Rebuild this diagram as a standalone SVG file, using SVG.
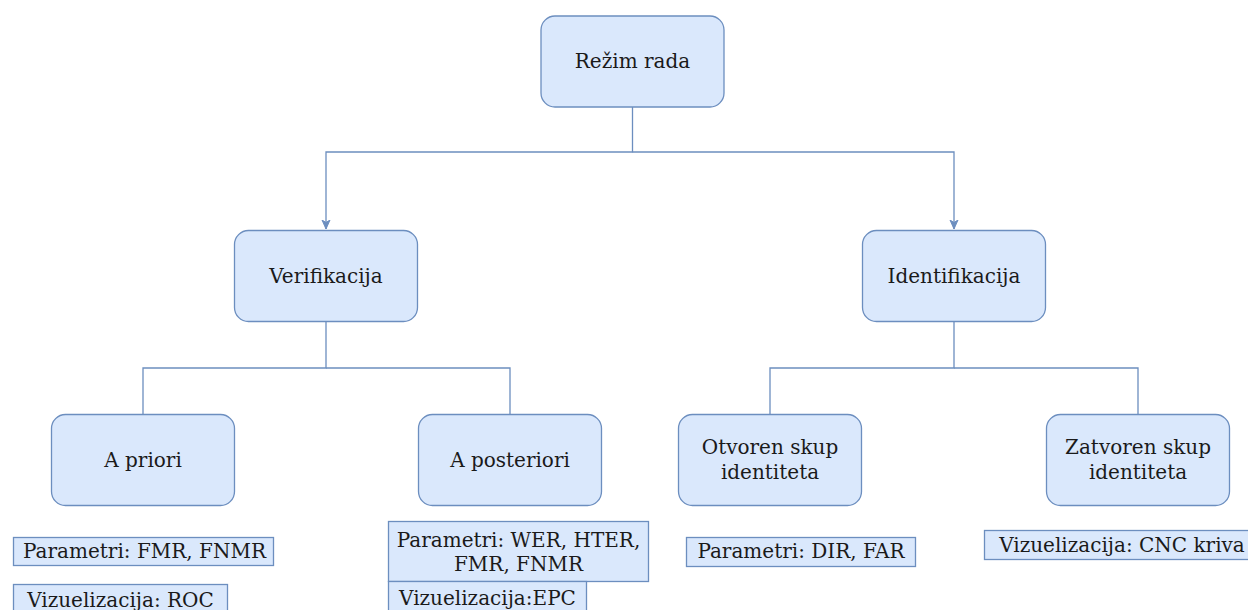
<svg xmlns="http://www.w3.org/2000/svg" width="1248" height="610" viewBox="0 0 1248 610">
  <style>
    .node { fill: #dae8fc; stroke: #6c8ebf; stroke-width: 1.3; }
    .lbl { font-family: "DejaVu Serif", "Liberation Serif", serif; font-size: 20px; fill: #1a1a1a; text-anchor: middle; }
    .edge { fill: none; stroke: #6c8ebf; stroke-width: 1.3; }
  </style>
  <defs>
    <marker id="arrow" viewBox="0 0 10 10" refX="9" refY="5" markerWidth="10" markerHeight="10" markerUnits="userSpaceOnUse" orient="auto">
      <path d="M0,1 L9,5 L0,9 L2.5,5 Z" fill="#6c8ebf" stroke="#6c8ebf" stroke-width="1"/>
    </marker>
  </defs>
  <rect width="1248" height="610" fill="#ffffff"/>

  <g id="connectors">
    <path class="edge" d="M632.5,107 V152 H326 V229" marker-end="url(#arrow)"/>
    <path class="edge" d="M632.5,152 H954 V229" marker-end="url(#arrow)"/>
    <path class="edge" d="M326,322 V368 H143 V414"/>
    <path class="edge" d="M326,368 H510 V414"/>
    <path class="edge" d="M954,322 V368 H770 V414"/>
    <path class="edge" d="M954,368 H1138 V414"/>
  </g>

  <g id="rezim-rada">
    <rect class="node" x="541" y="16" width="183" height="91" rx="14"/>
    <text class="lbl" x="632.5" y="68">Režim rada</text>
  </g>
  <g id="verifikacija">
    <rect class="node" x="234.5" y="230.5" width="183" height="91" rx="14"/>
    <text class="lbl" x="326" y="283">Verifikacija</text>
  </g>
  <g id="identifikacija">
    <rect class="node" x="862.5" y="230.5" width="183" height="91" rx="14"/>
    <text class="lbl" x="954" y="283">Identifikacija</text>
  </g>
  <g id="a-priori">
    <rect class="node" x="51.5" y="414.5" width="183" height="91" rx="14"/>
    <text class="lbl" x="143" y="467">A priori</text>
  </g>
  <g id="a-posteriori">
    <rect class="node" x="418.5" y="414.5" width="183" height="91" rx="14"/>
    <text class="lbl" x="510" y="467">A posteriori</text>
  </g>
  <g id="otvoren-skup">
    <rect class="node" x="678.5" y="414.5" width="183" height="91" rx="14"/>
    <text class="lbl" x="770" y="454">Otvoren skup</text>
    <text class="lbl" x="770" y="479">identiteta</text>
  </g>
  <g id="zatvoren-skup">
    <rect class="node" x="1046.5" y="414.5" width="183" height="91" rx="14"/>
    <text class="lbl" x="1138" y="454">Zatvoren skup</text>
    <text class="lbl" x="1138" y="479">identiteta</text>
  </g>

  <g id="apriori-parametri">
    <rect class="node" x="13.5" y="537.5" width="260" height="28"/>
    <text class="lbl" x="144.5" y="558">Parametri: FMR, FNMR</text>
  </g>
  <g id="apriori-vizuelizacija">
    <rect class="node" x="13.5" y="584.5" width="214" height="30"/>
    <text class="lbl" x="120.5" y="607">Vizuelizacija: ROC</text>
  </g>
  <g id="aposteriori-parametri">
    <rect class="node" x="388.5" y="521.5" width="260" height="60"/>
    <text class="lbl" x="518.5" y="547">Parametri: WER, HTER,</text>
    <text class="lbl" x="518.5" y="571">FMR, FNMR</text>
  </g>
  <g id="aposteriori-vizuelizacija">
    <rect class="node" x="388.5" y="581.5" width="198" height="32"/>
    <text class="lbl" x="487.5" y="605">Vizuelizacija:EPC</text>
  </g>
  <g id="otvoren-parametri">
    <rect class="node" x="686.5" y="537.5" width="229" height="29"/>
    <text class="lbl" x="801" y="558">Parametri: DIR, FAR</text>
  </g>
  <g id="zatvoren-vizuelizacija">
    <rect class="node" x="984.5" y="530.5" width="270" height="29"/>
    <text class="lbl" x="1122" y="552">Vizuelizacija: CNC kriva</text>
  </g>
</svg>
